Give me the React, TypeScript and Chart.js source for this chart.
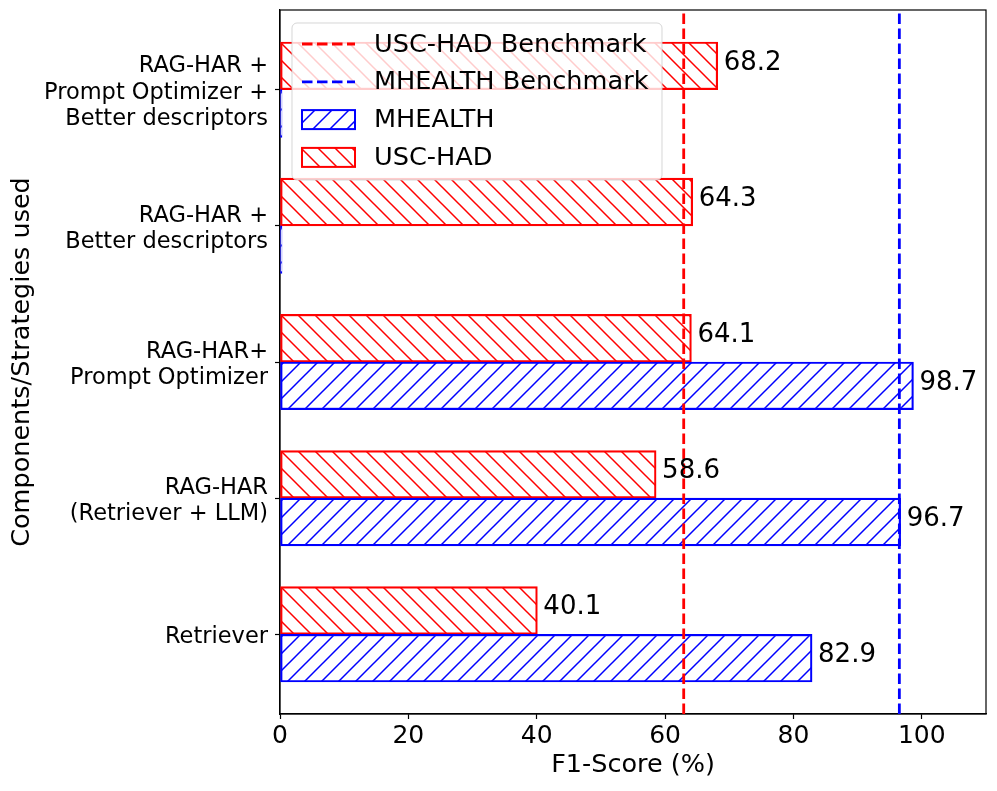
import React, { useEffect, useRef } from "react";
import { Chart, registerables } from "chart.js";

Chart.register(...registerables);

// ---- data ----
const categories = [
  "Retriever",
  "RAG-HAR\n(Retriever + LLM)",
  "RAG-HAR+\nPrompt Optimizer",
  "RAG-HAR +\nBetter descriptors",
  "RAG-HAR +\nPrompt Optimizer +\nBetter descriptors",
];
const mhealth = [82.9, 96.7, 98.7, 0, 0];
const uscHad = [40.1, 58.6, 64.1, 64.3, 68.2];
const uscHadBenchmark = 62.9;
const mhealthBenchmark = 96.5;
const xTicks = [0, 20, 40, 60, 80, 100];
const legendLabels = ["USC-HAD Benchmark", "MHEALTH Benchmark", "MHEALTH", "USC-HAD"];

// ---- style ----
const FONT = "'DejaVu Sans', sans-serif";
const RED = "#ff0000";
const BLUE = "#0000ff";
const BAR_W = 0.35;
const Y_MIN = -0.585;
const Y_MAX = 4.585;

function makeHatch(color: string, dir: string): CanvasPattern {
  const s = 17;
  const c = document.createElement("canvas");
  c.width = s;
  c.height = s;
  const g = c.getContext("2d")!;
  g.fillStyle = "#ffffff";
  g.fillRect(0, 0, s, s);
  g.strokeStyle = color;
  g.lineWidth = 1.5;
  const segs =
    dir === "/"
      ? [[-1, s + 1, s + 1, -1], [-3, 3, 3, -3], [s - 3, s + 3, s + 3, s - 3]]
      : [[-1, -1, s + 1, s + 1], [-3, s - 3, 3, s + 3], [s - 3, -3, s + 3, 3]];
  g.beginPath();
  for (const [a, b, c2, d] of segs) {
    g.moveTo(a, b);
    g.lineTo(c2, d);
  }
  g.stroke();
  return g.createPattern(c, "repeat")!;
}

export default function App() {
  const ref = useRef<HTMLCanvasElement | null>(null);

  useEffect(() => {
    if (!ref.current) return;
    const blueHatch = makeHatch(BLUE, "/");
    const redHatch = makeHatch(RED, "\\");

    const overlay = {
      id: "overlay",
      beforeDatasetsDraw(chart: any) {
        const { ctx, chartArea: ca } = chart;
        ctx.save();
        ctx.strokeStyle = "#000";
        ctx.lineWidth = 1.2;
        ctx.strokeRect(ca.left, ca.top, ca.right - ca.left, ca.bottom - ca.top);
        ctx.restore();
      },
      afterDraw(chart: any) {
        const { ctx, chartArea: ca } = chart;
        ctx.save();
        // value labels
        ctx.fillStyle = "#000";
        ctx.font = `26px ${FONT}`;
        ctx.textAlign = "left";
        ctx.textBaseline = "middle";
        [0, 1].forEach((di) => {
          const meta = chart.getDatasetMeta(di);
          const vals = di === 0 ? mhealth : uscHad;
          meta.data.forEach((el: any, i: number) => {
            if (vals[i] > 0) ctx.fillText(vals[i].toFixed(1), el.x + 6, el.y - 3);
          });
        });

        // legend
        const lx = ca.left + 12;
        const ly = ca.top + 13;
        const lw = 370;
        const lh = 157;
        ctx.beginPath();
        ctx.roundRect(lx, ly, lw, lh, 5);
        ctx.fillStyle = "rgba(255,255,255,0.8)";
        ctx.fill();
        ctx.strokeStyle = "rgba(204,204,204,0.8)";
        ctx.lineWidth = 1;
        ctx.stroke();
        const hx0 = lx + 10;
        const hx1 = lx + 63;
        legendLabels.forEach((lab, i) => {
          const cy = ly + 21 + i * 37.8;
          if (i < 2) {
            ctx.save();
            ctx.strokeStyle = i === 0 ? RED : BLUE;
            ctx.lineWidth = 2.8;
            ctx.setLineDash([10.5, 4.5]);
            ctx.beginPath();
            ctx.moveTo(hx0, cy);
            ctx.lineTo(hx1, cy);
            ctx.stroke();
            ctx.restore();
          } else {
            ctx.fillStyle = i === 2 ? blueHatch : redHatch;
            ctx.fillRect(hx0, cy - 9.5, hx1 - hx0, 19);
            ctx.strokeStyle = i === 2 ? BLUE : RED;
            ctx.lineWidth = 2;
            ctx.strokeRect(hx0, cy - 9.5, hx1 - hx0, 19);
          }
          ctx.fillStyle = "#000";
          ctx.font = `25.6px ${FONT}`;
          ctx.textAlign = "left";
          ctx.textBaseline = "middle";
          ctx.fillText(lab, lx + 82, cy + 1);
        });
        ctx.restore();
      },
    };

    const gridCfg = {
      drawOnChartArea: false,
      drawTicks: true,
      tickLength: 5,
      tickColor: "#000",
      tickWidth: 1.2,
      offset: false,
    };

    const barCommon = {
      type: "bar",
      borderWidth: 2.2,
      borderSkipped: false,
      minBarLength: 2,
      grouped: false,
      categoryPercentage: 1,
      barPercentage: 1,
      order: 2,
      clip: 4,
    };

    const chart = new Chart(ref.current, {
      type: "bar",
      data: {
        datasets: [
          {
            ...barCommon,
            label: "MHEALTH",
            data: mhealth.map((v, i) => ({ x: v, y: i - BAR_W / 2 })),
            backgroundColor: blueHatch,
            borderColor: BLUE,
          } as any,
          {
            ...barCommon,
            label: "USC-HAD",
            data: uscHad.map((v, i) => ({ x: v, y: i + BAR_W / 2 })),
            backgroundColor: redHatch,
            borderColor: RED,
          } as any,
          {
            type: "line",
            label: "USC-HAD Benchmark",
            data: [
              { x: uscHadBenchmark, y: Y_MIN },
              { x: uscHadBenchmark, y: Y_MAX },
            ],
            borderColor: RED,
            borderWidth: 2.8,
            borderDash: [10.5, 4.5],
            pointRadius: 0,
            fill: false,
            order: 0,
          } as any,
          {
            type: "line",
            label: "MHEALTH Benchmark",
            data: [
              { x: mhealthBenchmark, y: Y_MIN },
              { x: mhealthBenchmark, y: Y_MAX },
            ],
            borderColor: BLUE,
            borderWidth: 2.8,
            borderDash: [10.5, 4.5],
            pointRadius: 0,
            fill: false,
            order: 0,
          } as any,
        ],
      },
      options: {
        indexAxis: "y",
        animation: false,
        responsive: false,
        maintainAspectRatio: false,
        layout: { padding: { top: 10, right: 11, bottom: 0, left: 0 } },
        plugins: {
          legend: { display: false },
          tooltip: { enabled: false },
        },
        scales: {
          x: {
            type: "linear",
            position: "bottom",
            min: 0,
            max: 110,
            offset: false,
            afterBuildTicks: (s: any) => {
              s.ticks = xTicks.map((v) => ({ value: v }));
            },
            afterFit: (s: any) => {
              s.height = 77;
              s.paddingLeft = 0;
              s.paddingRight = 0;
            },
            ticks: {
              font: { family: FONT, size: 25 },
              color: "#000",
              padding: 2,
              maxRotation: 0,
              autoSkip: false,
            },
            grid: gridCfg,
            border: { display: true, color: "#000", width: 1.2 },
            title: {
              display: true,
              text: "F1-Score (%)",
              font: { family: FONT, size: 25.5, lineHeight: 1.2 },
              color: "#000",
              padding: { top: 0, bottom: 10 },
            },
          },
          y: {
            type: "linear",
            position: "left",
            min: Y_MIN,
            max: Y_MAX,
            offset: false,
            afterBuildTicks: (s: any) => {
              s.ticks = categories.map((_, i) => ({ value: i }));
            },
            afterFit: (s: any) => {
              s.width = 280;
              s.paddingTop = 0;
              s.paddingBottom = 0;
            },
            ticks: {
              callback: (v: any) => {
                const c = categories[Math.round(Number(v))];
                return c ? c.split("\n") : "";
              },
              font: { family: FONT, size: 22.5, lineHeight: 1.17 },
              color: "#000",
              padding: 7,
              labelOffset: 3,
              autoSkip: false,
            },
            grid: gridCfg,
            border: { display: true, color: "#000", width: 1.2 },
            title: {
              display: true,
              text: "Components/Strategies used",
              font: { family: FONT, size: 25.5, lineHeight: 1.2 },
              color: "#000",
              padding: { top: 7, bottom: 0 },
            },
          },
        },
      } as any,
      plugins: [overlay],
    });

    return () => chart.destroy();
  }, []);

  return (
    <div style={{ position: "fixed", left: 0, top: 0, width: 997, height: 791, background: "#fff" }}>
      <canvas ref={ref} width={997} height={791} style={{ width: 997, height: 791, display: "block" }} />
    </div>
  );
}
